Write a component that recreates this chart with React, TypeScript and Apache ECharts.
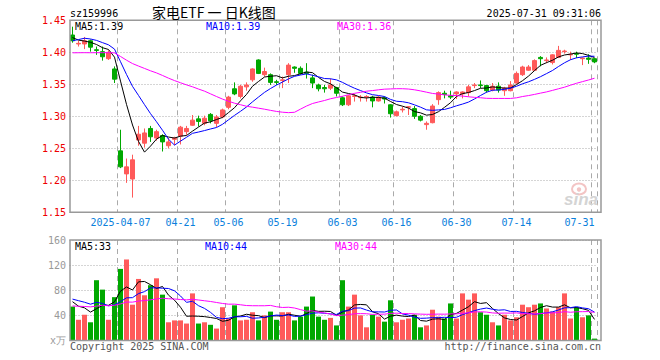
import React, { useEffect, useRef } from 'react';
import * as echarts from 'echarts';

const dates = [
  '2025-03-25','2025-03-26','2025-03-27','2025-03-28','2025-03-31',
  '2025-04-01','2025-04-02','2025-04-03','2025-04-07','2025-04-08','2025-04-09','2025-04-10','2025-04-11',
  '2025-04-14','2025-04-15','2025-04-16','2025-04-17','2025-04-18','2025-04-21','2025-04-22','2025-04-23',
  '2025-04-24','2025-04-25','2025-04-28','2025-04-29','2025-04-30',
  '2025-05-06','2025-05-07','2025-05-08','2025-05-09','2025-05-12','2025-05-13','2025-05-14','2025-05-15',
  '2025-05-16','2025-05-19','2025-05-20','2025-05-21','2025-05-22','2025-05-23','2025-05-26','2025-05-27',
  '2025-05-28','2025-05-29','2025-05-30',
  '2025-06-03','2025-06-04','2025-06-05','2025-06-06','2025-06-09','2025-06-10','2025-06-11','2025-06-12',
  '2025-06-13','2025-06-16','2025-06-17','2025-06-18','2025-06-19','2025-06-20','2025-06-23','2025-06-24',
  '2025-06-25','2025-06-26','2025-06-27','2025-06-30',
  '2025-07-01','2025-07-02','2025-07-03','2025-07-04','2025-07-07','2025-07-08','2025-07-09','2025-07-10',
  '2025-07-11','2025-07-14','2025-07-15','2025-07-16','2025-07-17','2025-07-18','2025-07-21','2025-07-22',
  '2025-07-23','2025-07-24','2025-07-25','2025-07-28','2025-07-29','2025-07-30','2025-07-31'
];

const open = [
  1.427,1.413,1.413,1.418,1.404,1.401,1.390,1.374,1.246,1.210,1.202,1.263,1.258,1.281,1.266,1.270,1.254,1.264,
  1.269,1.276,1.286,1.296,1.289,1.303,1.289,1.299,1.314,1.343,1.331,1.346,1.357,1.388,1.365,1.365,1.354,1.356,
  1.365,1.377,1.375,1.369,1.360,1.349,1.345,1.344,1.345,1.329,1.318,1.331,1.329,1.330,1.330,1.324,1.329,1.318,
  1.301,1.310,1.314,1.312,1.300,1.287,1.290,1.326,1.336,1.332,1.335,1.335,1.337,1.348,1.349,1.348,1.341,1.347,
  1.340,1.340,1.352,1.365,1.372,1.372,1.392,1.387,1.384,1.392,1.401,1.396,1.398,1.390,1.391,1.390
];
const close = [
  1.418,1.414,1.418,1.408,1.403,1.393,1.400,1.358,1.221,1.221,1.232,1.272,1.274,1.268,1.276,1.260,1.260,1.266,
  1.283,1.281,1.294,1.292,1.297,1.293,1.299,1.310,1.330,1.335,1.347,1.349,1.374,1.367,1.370,1.353,1.353,1.357,
  1.380,1.375,1.367,1.367,1.352,1.343,1.343,1.349,1.336,1.318,1.332,1.332,1.330,1.331,1.324,1.330,1.327,1.304,
  1.307,1.311,1.315,1.300,1.294,1.289,1.316,1.337,1.334,1.330,1.338,1.338,1.346,1.349,1.348,1.340,1.347,1.341,
  1.344,1.349,1.367,1.377,1.377,1.387,1.390,1.388,1.396,1.403,1.402,1.397,1.397,1.391,1.389,1.385
];
const high = [
  1.440,1.418,1.424,1.420,1.409,1.409,1.403,1.378,1.279,1.234,1.240,1.285,1.281,1.285,1.279,1.272,1.266,1.268,
  1.285,1.285,1.302,1.301,1.301,1.305,1.302,1.312,1.332,1.353,1.349,1.353,1.375,1.389,1.376,1.367,1.357,1.362,
  1.383,1.378,1.378,1.383,1.365,1.351,1.349,1.359,1.346,1.331,1.333,1.335,1.333,1.333,1.332,1.332,1.331,1.319,
  1.309,1.315,1.316,1.316,1.302,1.292,1.319,1.339,1.340,1.340,1.339,1.339,1.349,1.352,1.356,1.349,1.352,1.353,
  1.346,1.355,1.370,1.379,1.380,1.389,1.394,1.392,1.397,1.410,1.404,1.401,1.401,1.392,1.397,1.391
];
const low = [
  1.415,1.409,1.405,1.401,1.396,1.387,1.388,1.352,1.219,1.196,1.173,1.254,1.251,1.260,1.262,1.245,1.250,1.255,
  1.256,1.271,1.285,1.284,1.286,1.289,1.283,1.297,1.311,1.333,1.328,1.340,1.354,1.366,1.362,1.349,1.349,1.344,
  1.352,1.368,1.365,1.359,1.344,1.339,1.337,1.341,1.331,1.316,1.316,1.323,1.323,1.323,1.314,1.323,1.320,1.298,
  1.300,1.306,1.302,1.296,1.292,1.279,1.289,1.318,1.328,1.327,1.327,1.328,1.331,1.344,1.344,1.337,1.339,1.337,
  1.332,1.339,1.351,1.363,1.371,1.371,1.378,1.383,1.381,1.391,1.398,1.388,1.391,1.380,1.382,1.383
];
// volume, 万
const volume = [
  54,33,41,29,96,81,33,69,114,129,57,98,72,88,99,73,29,32,32,27,75,27,29,25,19,53,35,56,32,33,45,32,40,46,33,
  45,45,32,38,54,70,38,33,36,24,96,54,73,40,21,41,38,30,64,29,33,35,41,21,24,49,38,35,59,35,75,65,75,45,41,29,
  24,41,32,37,57,53,57,59,51,46,53,75,35,53,37,40,3
];
// sessions before the first visible one (estimated from the MA lines' starting levels)
const priorClose = [
  1.410,1.415,1.410,1.400,1.395,1.400,1.365,1.390,1.395,1.390,1.390,1.385,1.380,1.375,1.380,1.385,1.380,1.385,
  1.380,1.385,1.395,1.397,1.420,1.425,1.428,1.434,1.425,1.418,1.420
];
const priorVolume = [
  45,52,48,60,41,55,47,50,38,62,44,53,49,58,40,51,46,57,43,50,58,66,60,66,100,69,54,63,69
];

const tickDates = ['2025-04-07','2025-04-21','2025-05-06','2025-05-19','2025-06-03','2025-06-16','2025-06-30','2025-07-14','2025-07-31'];
const tickLabels = ['2025-04-07','04-21','05-06','05-19','06-03','06-16','06-30','07-14','07-31'];
const priceLegend = ['MA5:1.39', 'MA10:1.39', 'MA30:1.36'];
const volumeLegend = ['MA5:33', 'MA10:44', 'MA30:44'];

const RED = '#ff5a5a';
const GREEN = '#00a800';
const MONO = "'DejaVu Sans Mono', monospace";

function movingAverage(prior: number[], values: number[], n: number, digits: number) {
  const all = prior.concat(values);
  return values.map((_, i) => {
    const end = prior.length + i;
    let s = 0;
    for (let k = end - n + 1; k <= end; k++) s += all[k];
    return +(s / n).toFixed(digits);
  });
}

export default function App() {
  const ref = useRef<HTMLDivElement>(null);
  useEffect(() => {
    if (!ref.current) return;
    const chart = echarts.init(ref.current, undefined, { renderer: 'svg' });
    const tickIdx = new Set(tickDates.map((d) => dates.indexOf(d)));
    const labelFor: Record<string, string> = {};
    tickDates.forEach((d, i) => (labelFor[d] = tickLabels[i]));
    const showTick = (i: number) => tickIdx.has(i);
    const kData = dates.map((_, i) => [open[i], close[i], low[i], high[i]]);
    const volData = volume.map((v, i) => ({
      value: v,
      itemStyle: { color: close[i] >= open[i] ? RED : GREEN },
    }));
    const ma = (data: number[], name: string, color: string, x: number, y: number) => ({
      type: 'line', name, data, xAxisIndex: x, yAxisIndex: y, symbol: 'none', silent: true,
      lineStyle: { color, width: 1 }, z: 5,
    });
    const legendText = (text: string, x: number, y: number, fill: string) => ({
      type: 'text', z: 100,
      style: { text, x, y, fill, font: `10px ${MONO}`, verticalAlign: 'middle' },
    });
    const vSplit = { show: true, interval: showTick, lineStyle: { color: '#aaa', type: [5, 4], width: 1 } };
    const hSplit = { show: true, lineStyle: { color: '#aaa', type: [1, 2], width: 1 } };

    chart.setOption({
      animation: false,
      backgroundColor: '#ffffff',
      grid: [
        { left: 69.5, top: 20.3, width: 528, height: 192 },
        { left: 69.5, top: 240, width: 528, height: 100.5 },
      ],
      xAxis: [
        {
          type: 'category', gridIndex: 0, data: dates, boundaryGap: true,
          axisLine: { show: false }, axisTick: { show: false },
          axisLabel: {
            interval: showTick, color: '#0a80dc', fontFamily: MONO, fontSize: 10, margin: 5,
            alignMaxLabel: 'right',
            formatter: (v: string) => labelFor[v] || '',
          },
          splitLine: vSplit,
        },
        {
          type: 'category', gridIndex: 1, data: dates, boundaryGap: true,
          axisLine: { show: false }, axisTick: { show: false }, axisLabel: { show: false },
          splitLine: vSplit,
        },
      ],
      yAxis: [
        {
          type: 'value', gridIndex: 0, min: 1.15, max: 1.45, interval: 0.05, scale: true,
          axisLine: { show: false }, axisTick: { show: false },
          axisLabel: { color: '#ee0000', fontFamily: MONO, fontSize: 10, margin: 3.5, formatter: (v: number) => v.toFixed(2) },
          splitLine: hSplit,
        },
        {
          type: 'value', gridIndex: 1, min: 0, max: 160, interval: 40,
          axisLine: { show: false }, axisTick: { show: false },
          axisLabel: { color: '#999', fontFamily: MONO, fontSize: 10, margin: 3.5, formatter: (v: number) => (v === 0 ? 'x万' : String(v)) },
          splitLine: hSplit,
        },
      ],
      series: [
        {
          type: 'candlestick', data: kData, xAxisIndex: 0, yAxisIndex: 0, barWidth: 5,
          itemStyle: { color: RED, color0: GREEN, borderColor: RED, borderColor0: GREEN, borderWidth: 1 },
        },
        ma(movingAverage(priorClose, close, 5, 4), 'MA5', '#000000', 0, 0),
        ma(movingAverage(priorClose, close, 10, 4), 'MA10', '#0000ff', 0, 0),
        ma(movingAverage(priorClose, close, 30, 4), 'MA30', '#ff00ff', 0, 0),
        { type: 'bar', data: volData, xAxisIndex: 1, yAxisIndex: 1, barWidth: 5 },
        ma(movingAverage(priorVolume, volume, 5, 2), 'VMA5', '#000000', 1, 1),
        ma(movingAverage(priorVolume, volume, 10, 2), 'VMA10', '#0000ff', 1, 1),
        ma(movingAverage(priorVolume, volume, 30, 2), 'VMA30', '#ff00ff', 1, 1),
      ],
      graphic: [
        { type: 'rect', z: 90, shape: { x: 70, y: 20.3, width: 531, height: 192 }, style: { fill: 'none', stroke: '#999', lineWidth: 1.5 } },
        { type: 'rect', z: 90, shape: { x: 70, y: 240, width: 531, height: 100.5 }, style: { fill: 'none', stroke: '#999', lineWidth: 1.5 } },
        { type: 'text', z: 100, style: { text: 'sz159996', x: 70, y: 13, fill: '#000', font: `10px ${MONO}`, verticalAlign: 'middle' } },
        { type: 'text', z: 100, style: { text: '家电ETF 一 日K线图', x: 152, y: 12, fill: '#000', font: "14px 'Noto Sans CJK SC'", verticalAlign: 'middle' } },
        { type: 'text', z: 100, style: { text: '2025-07-31 09:31:06', x: 601, y: 13, fill: '#000', font: `10px ${MONO}`, align: 'right', verticalAlign: 'middle' } },
        legendText(priceLegend[0], 75, 26, '#000000'),
        legendText(priceLegend[1], 206, 26, '#0000ff'),
        legendText(priceLegend[2], 337, 26, '#ff00ff'),
        legendText(volumeLegend[0], 75, 246.5, '#000000'),
        legendText(volumeLegend[1], 205, 246.5, '#0000ff'),
        legendText(volumeLegend[2], 335, 246.5, '#ff00ff'),
        { type: 'text', z: 100, style: { text: 'Copyright 2025 SINA.COM', x: 70, y: 346, fill: '#555', font: `10px ${MONO}`, verticalAlign: 'middle' } },
        { type: 'text', z: 100, style: { text: 'http://finance.sina.com.cn', x: 601, y: 346, fill: '#555', font: `10px ${MONO}`, align: 'right', verticalAlign: 'middle' } },
        { type: 'ellipse', z: 50, shape: { cx: 579, cy: 189, rx: 7, ry: 5.5 }, style: { fill: 'none', stroke: '#f3c4c4', lineWidth: 2 } },
        { type: 'circle', z: 50, shape: { cx: 579, cy: 189.5, r: 2.2 }, style: { fill: '#f3c4c4' } },
        { type: 'text', z: 50, style: { text: 'sina', x: 564, y: 199, fill: '#d4d4d4', font: "italic bold 17px 'Liberation Sans'", verticalAlign: 'middle' } },
      ],
    });
    return () => chart.dispose();
  }, []);
  return <div ref={ref} style={{ position: 'fixed', left: 0, top: 0, width: 660, height: 360, background: '#fff' }} />;
}
